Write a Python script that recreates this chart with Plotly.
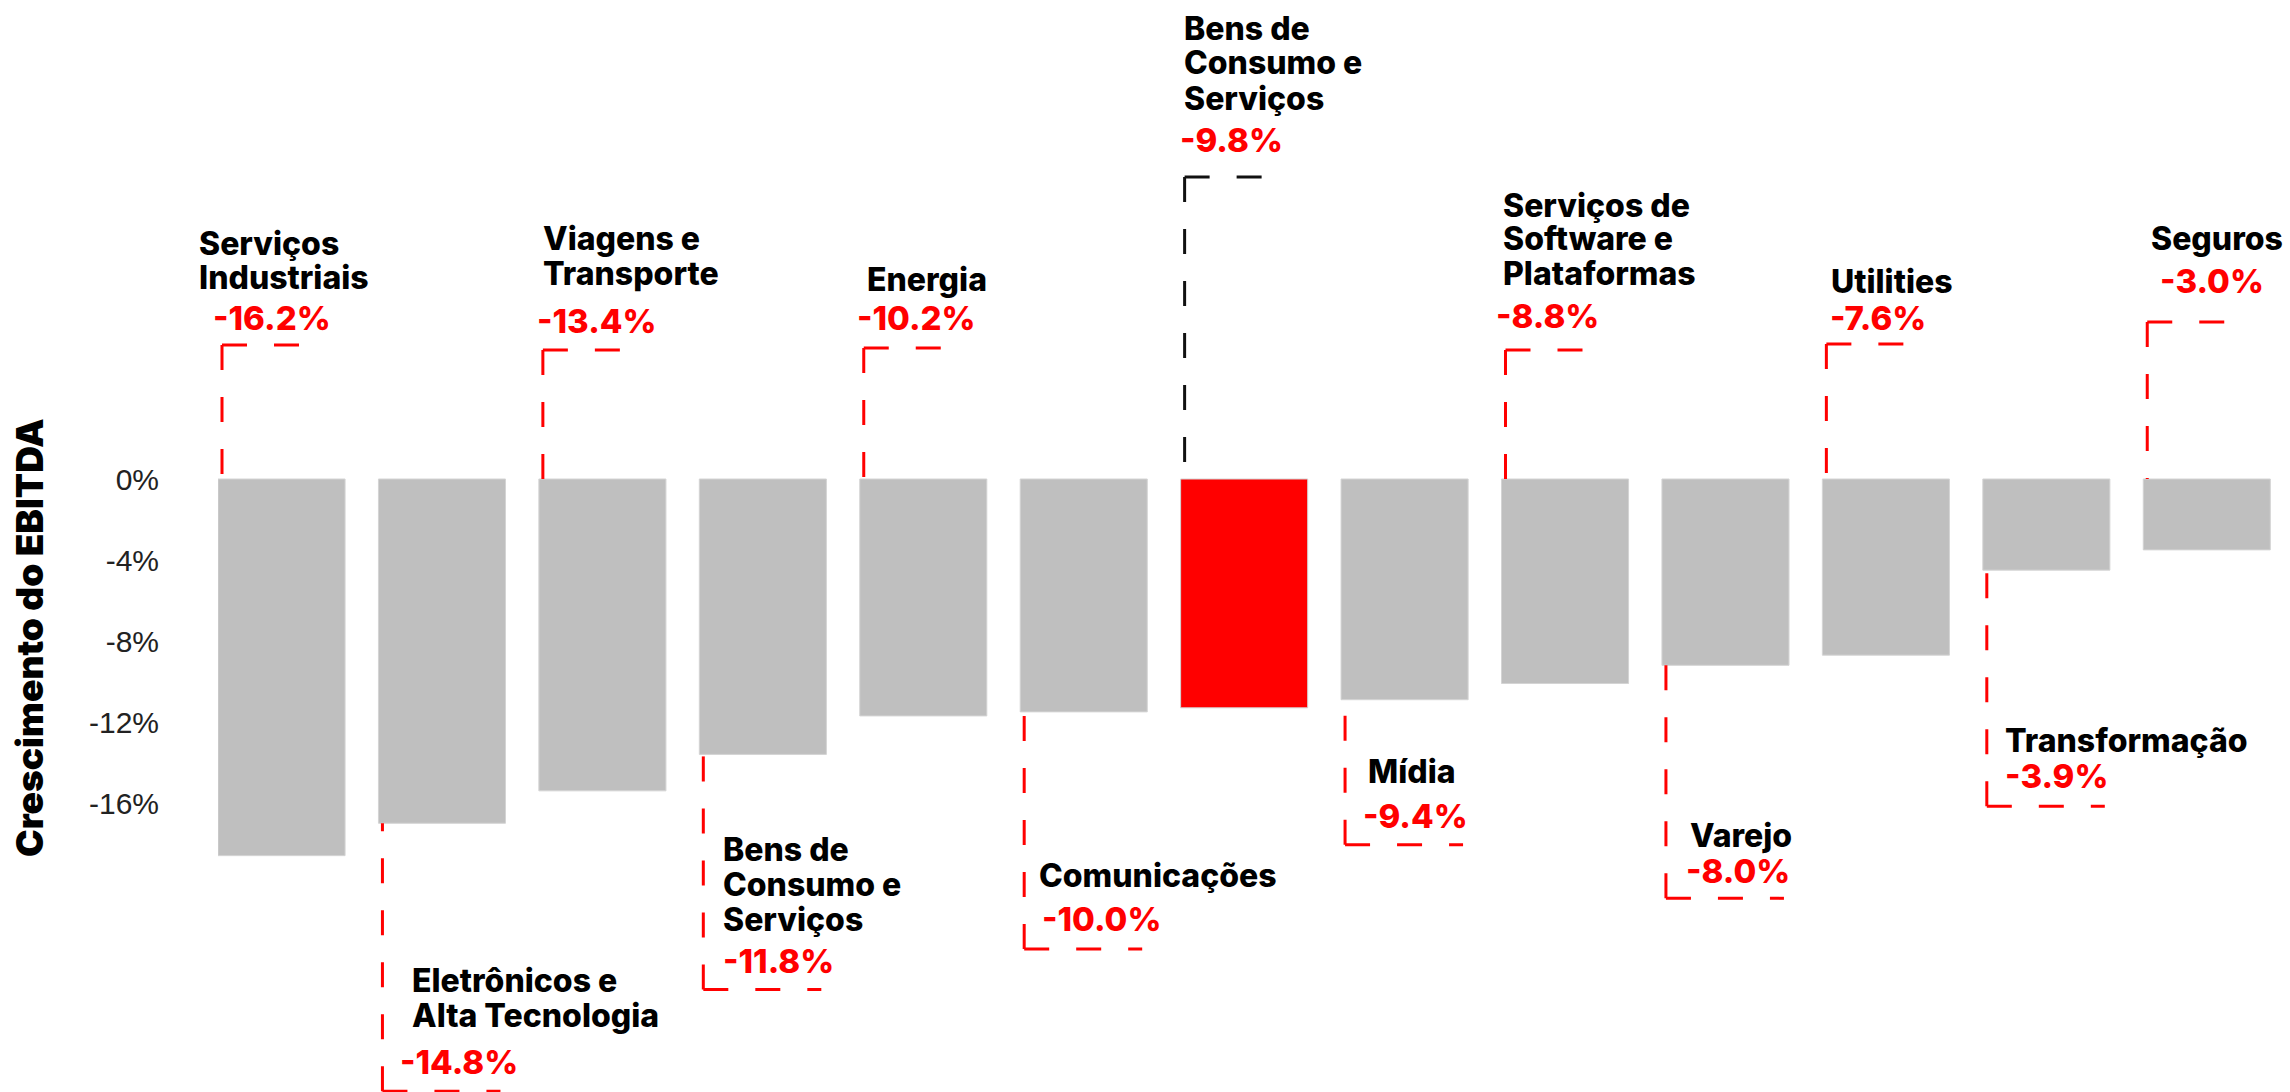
import plotly.graph_objects as go

# ---------------- data ----------------
sectors = ["Serviços Industriais", "Eletrônicos e Alta Tecnologia", "Viagens e Transporte",
           "Bens de Consumo e Serviços", "Energia", "Comunicações", "Bens de Consumo e Serviços",
           "Mídia", "Serviços de Software e Plataformas", "Varejo", "Utilities",
           "Transformação", "Seguros"]
bar_values = [-18.6, -17.0, -15.4, -13.6, -11.7, -11.5, -11.3, -10.9, -10.1, -9.2, -8.7, -4.5, -3.5]
label_values = [-16.2, -14.8, -13.4, -11.8, -10.2, -10.0, -9.8, -9.4, -8.8, -8.0, -7.6, -3.9, -3.0]
highlight_index = 6
tick_values = [0, -4, -8, -12, -16]
tick_text = ["0%", "-4%", "-8%", "-12%", "-16%"]
axis_title = "Crescimento do EBITDA"

# ---------------- label layout (line wraps and pixel offsets) ----------------
name_lines = [["Serviços", "Industriais"], ["Eletrônicos e", "Alta Tecnologia"], ["Viagens e", "Transporte"],
              ["Bens de", "Consumo e", "Serviços"], ["Energia"], ["Comunicações"],
              ["Bens de", "Consumo e", "Serviços"], ["Mídia"], ["Serviços de", "Software e", "Plataformas"],
              ["Varejo"], ["Utilities"], ["Transformação"], ["Seguros"]]
# side, bracket offset, name baselines, pct baseline, name dx, pct dx (px, from bar left edge / anchor)
label_layout = [
    ("top", 134, [224, 190], 149, -20, -6),
    ("bottom", 268, [168, 203], 250, 33, 21),
    ("top", 129, [229, 194], 146, 3, -3),
    ("bottom", 235, [106, 141, 176], 218, 23, 23),
    ("top", 131, [188], 149, 6, -4),
    ("bottom", 237, [175], 219, 18, 21),
    ("top", 302, [439, 405, 369], 327, 2, -2),
    ("bottom", 145, [83], 128, 26, 21),
    ("top", 129, [262, 229, 194], 151, 0, -7),
    ("bottom", 233, [181], 217, 27, 23),
    ("top", 135, [186], 149, 8, 7),
    ("bottom", 236, [182], 217, 21, 21),
    ("top", 157, [229], 186, 7, 16),
]

RED = "#ff0000"
GRAY = "#bfbfbf"
BARGAP = 0.208
HALF = (1 - BARGAP) / 2
NAME_FS = 32
PCT_FS = 33
LINE_DX = 4
DASH = "25px,27px"
FONT_BOLD = "Inter, Liberation Sans, Arial, sans-serif"

idx = list(range(len(sectors)))
colors = [RED if i == highlight_index else GRAY for i in idx]

fig = go.Figure()
fig.add_trace(go.Bar(
    x=idx, y=bar_values, marker=dict(color=colors, line=dict(color="#d4d4d4", width=1)),
    hovertext=sectors, hoverinfo="text+y", showlegend=False,
))

annotations = []
shapes = []
for i, (side, br, bases, pbase, ndx, pdx) in enumerate(label_layout):
    left = i - HALF
    lead_color = "#111111" if i == highlight_index else RED
    if side == "top":
        anchor = 0
        sign = 1
        hlen = 78
    else:
        anchor = bar_values[i]
        sign = -1
        hlen = 118
    # leader lines
    shapes.append(dict(type="line", xref="x", yref="y", xsizemode="pixel", xanchor=left,
                       ysizemode="pixel", yanchor=anchor, x0=LINE_DX, x1=LINE_DX,
                       y0=sign * br, y1=0, line=dict(color=lead_color, width=3, dash=DASH)))
    shapes.append(dict(type="line", xref="x", yref="y", xsizemode="pixel", xanchor=left,
                       ysizemode="pixel", yanchor=anchor, x0=LINE_DX, x1=LINE_DX + hlen,
                       y0=sign * br, y1=sign * br, line=dict(color=lead_color, width=3, dash=DASH)))
    # name lines
    for line_txt, b in zip(name_lines[i], bases):
        annotations.append(dict(
            x=left, y=anchor, xref="x", yref="y", xanchor="left", yanchor="middle",
            xshift=ndx, yshift=sign * b + 0.35 * NAME_FS, text=line_txt, showarrow=False,
            borderpad=0,
            font=dict(family=FONT_BOLD, size=NAME_FS, color="#000000", weight=800),
        ))
    annotations.append(dict(
        x=left, y=anchor, xref="x", yref="y", xanchor="left", yanchor="middle",
        xshift=pdx, yshift=sign * pbase + 0.35 * PCT_FS, text=f"{label_values[i]:.1f}%",
        showarrow=False, borderpad=0,
        font=dict(family=FONT_BOLD, size=PCT_FS, color=RED, weight=800),
    ))

# y-axis title
annotations.append(dict(
    x=0, y=-7.85, xref="paper", yref="y", xanchor="center", yanchor="middle", xshift=-188,
    text=axis_title, textangle=-90, showarrow=False,
    font=dict(family=FONT_BOLD, size=37, color="#000000", weight=900),
))

PX_PER_UNIT = 20.25
ZERO_PX = 479
H = 1092
fig.update_layout(
    width=2290, height=H, autosize=False,
    margin=dict(l=218, r=3, t=0, b=0, pad=0),
    paper_bgcolor="white", plot_bgcolor="white",
    bargap=BARGAP,
    xaxis=dict(range=[-HALF, len(sectors) - 0.5], visible=False, fixedrange=True),
    yaxis=dict(range=[-(H - ZERO_PX) / PX_PER_UNIT, ZERO_PX / PX_PER_UNIT],
               tickvals=tick_values, ticktext=tick_text, showgrid=False, zeroline=False,
               showline=False, ticks="", ticklabelstandoff=58,
               tickfont=dict(family="Liberation Sans, Arial, sans-serif", size=30, color="#222222"),
               fixedrange=True),
    annotations=annotations, shapes=shapes,
)

fig.write_html("out.html", config={"displayModeBar": False},
               post_script="document.body.style.margin='0';document.body.style.overflow='hidden';")
